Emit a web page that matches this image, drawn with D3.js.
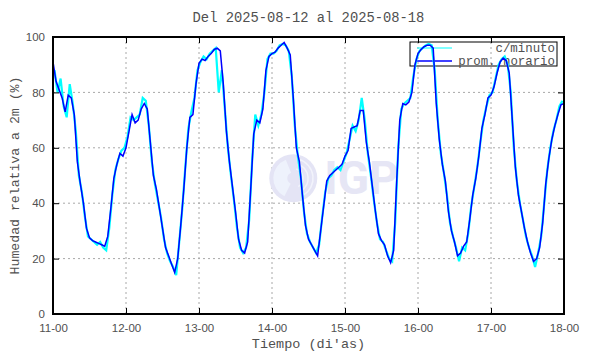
<!DOCTYPE html>
<html lang="es">
<head>
  <meta charset="UTF-8">
  <title>Humedad relativa a 2m</title>
  <style>
    * { margin: 0; padding: 0; }
    body { background: #fff; }
    svg { display: block; font-family: "Liberation Mono", "DejaVu Sans Mono", monospace; }
    text { fill: #505050; }
    .grid line { stroke: #a8a8a8; stroke-dasharray: 2, 3; }
    .axis line { stroke: #000; }
    .axis path { display: none; }
  </style>
</head>
<body>
  <svg id="svg"></svg>
  <script src="https://cdnjs.cloudflare.com/ajax/libs/d3/7.8.5/d3.min.js"></script>
  <script>
    const titulo = 'Del 2025-08-12 al 2025-08-18'
    const dias = ['11-00', '12-00', '13-00', '14-00', '15-00', '16-00', '17-00', '18-00']
    const yTicks = [0, 20, 40, 60, 80, 100]
    const series = ['c/minuto', 'prom. horario']

    // promedio horario, una hora por valor (h = 0..168)
    const horario = [
      91, 84, 81, 78, 73, 79, 78, 72, 55, 47, 40, 31, 27.5, 26.5, 26, 25.5, 25, 24.5, 28, 38, 49, 54, 58, 57,
      60, 66, 72, 69, 70, 74, 76, 74, 62, 50, 45, 38, 31, 24, 21, 18, 15, 20, 32, 45, 60, 71, 72, 83,
      90.5, 92, 91.5, 93, 94, 95.5, 96, 95, 83, 66, 55, 46, 37, 27, 23, 22, 26, 45, 65, 70, 69, 74, 88, 93,
      94, 94.5, 96, 97, 98, 96, 93.5, 78, 60, 55, 43, 32, 27, 25, 23, 21, 30, 39, 48, 50, 51, 52, 53, 54,
      57, 59, 67, 67.5, 68, 73.5, 73.5, 62, 55, 46, 37, 29, 26.5, 25, 21, 18.5, 23, 48, 70, 76, 75.5, 76.5, 80, 90,
      94, 95.5, 96.5, 97, 97, 96, 76, 63, 54, 48, 37, 30, 26, 21, 22, 24.5, 26, 34, 43, 49, 57, 67, 72, 78,
      79, 82, 87, 91, 92.4, 91.5, 87, 70, 53, 43, 37, 31, 26, 22, 19, 20, 24, 33, 47, 56, 63, 68, 72, 75.5, 76
    ]

    // muestras por minuto (leidas a la media hora, h + 0.5)
    const minuto = [
      88, 80, 85, 75, 71, 83, 76, 66, 50, 44, 35, 28, 27, 26, 25, 26, 24, 23, 31, 43, 52, 56, 59, 60,
      64, 71, 70, 71, 72, 78, 77, 68, 55, 47, 41, 35, 27, 22, 19, 17, 14, 26, 38, 53, 67, 73, 78, 88,
      91, 93, 92, 94, 95, 96, 80, 88, 74, 60, 50, 41, 31, 24, 22, 24, 34, 56, 72, 68, 72, 80, 92, 94,
      94, 95, 97, 97.5, 97, 95, 86, 68, 57, 49, 37, 29, 26, 24, 22, 25, 35, 44, 49, 50, 52, 53, 52, 55,
      58, 63, 68, 66, 70, 78, 70, 58, 50, 41, 33, 27, 26, 23, 20, 19, 33, 60, 74, 76, 77, 78, 86, 92,
      95, 96, 97, 97.5, 97, 88, 70, 58, 51, 43, 33, 28, 24, 19, 24, 23, 29, 39, 46, 53, 62, 70, 75, 79,
      80, 85, 90, 92, 93, 90, 80, 60, 48, 40, 34, 28, 24, 21, 17, 22, 28, 40, 52, 60, 66, 70, 75, 77
    ]

    const dimension = {
      width: 590,
      height: 354,
      margin: { top: 37, right: 26, bottom: 40, left: 53 }
    }
    const m = dimension.margin
    const W = dimension.width - m.left - m.right
    const H = dimension.height - m.top - m.bottom

    const svg = d3.select('#svg')
      .attr('width', dimension.width)
      .attr('height', dimension.height)

    const x = d3.scaleLinear().domain([0, 168]).range([0, W])
    const y = d3.scaleLinear().domain([0, 100]).range([H, 0])
    const diaHoras = dias.map((d, i) => i * 24)

    const g = svg.append('g').attr('transform', `translate(${m.left},${m.top})`)

    svg.append('defs').append('clipPath').attr('id', 'clip')
      .append('rect').attr('width', W).attr('height', H)

    // grilla punteada
    const grid = g.append('g').attr('class', 'grid')
    grid.selectAll('.gx').data(diaHoras.slice(1, -1)).join('line')
      .attr('x1', d => x(d)).attr('x2', d => x(d)).attr('y1', 0).attr('y2', H)
    grid.selectAll('.gy').data(yTicks.slice(1, -1)).join('line')
      .attr('x1', 0).attr('x2', W).attr('y1', d => y(d)).attr('y2', d => y(d))

    // marca de agua IGP
    const wm = g.append('g').attr('transform', `translate(${x(79)},${y(49)})`)
    wm.append('circle').attr('r', 24).attr('fill', '#e4e4f5')
    wm.append('path').attr('d', d3.arc()({ innerRadius: 6, outerRadius: 20, startAngle: 3.6, endAngle: 5.9 }))
      .attr('fill', '#eef2fc')
    ;[9, 14, 19].forEach(r => {
      wm.append('path').attr('d', d3.arc()({ innerRadius: r, outerRadius: r + 1.5, startAngle: 0.3, endAngle: 2.6 }))
        .attr('fill', '#f2f3fb')
    })
    wm.append('text').attr('x', 31).attr('y', 16)
      .style('font-family', 'Roboto, "Liberation Sans", sans-serif')
      .style('font-weight', 'bold').style('font-size', '46px')
      .style('fill', '#e6e6f5').text('IGP')

    // leyenda
    const leg = g.append('g').attr('transform', `translate(${410 - m.left},${42 - m.top})`)
    leg.append('rect').attr('width', 147).attr('height', 24)
      .attr('fill', 'none').attr('stroke', '#000').attr('stroke-width', 1)
    const colores = ['#00ffff', '#0000ff']
    series.forEach((s, i) => {
      leg.append('line').attr('x1', 7).attr('x2', 42).attr('y1', 6 + i * 13).attr('y2', 6 + i * 13)
        .attr('stroke', colores[i]).attr('stroke-width', i ? 1.5 : 1)
      leg.append('text').attr('x', 145).attr('y', 10 + i * 13).attr('text-anchor', 'end')
        .style('font-size', '12.4px').text(s)
    })

    // curvas
    const datos = g.append('g').attr('clip-path', 'url(#clip)')
    const linea = d3.line().x(d => x(d[0])).y(d => y(d[1]))
    datos.append('path')
      .datum(minuto.map((v, i) => [i + 0.5, v]))
      .attr('fill', 'none').attr('stroke', '#00ffff').attr('stroke-width', 2.2)
      .attr('d', linea)
    datos.append('path')
      .datum(horario.map((v, i) => [i, v]))
      .attr('fill', 'none').attr('stroke', '#0000ff').attr('stroke-width', 1.5)
      .attr('d', linea)

    // marco y ejes
    g.append('rect').attr('width', W).attr('height', H)
      .attr('fill', 'none').attr('stroke', '#000').attr('stroke-width', 2)

    g.append('g').attr('class', 'axis').attr('transform', `translate(0,${H})`)
      .call(d3.axisBottom(x).tickValues(diaHoras).tickFormat((d, i) => dias[i])
        .tickSizeInner(-6).tickSizeOuter(0).tickPadding(10))
      .selectAll('text').style('font-size', '11.5px').style('fill', '#505050')
    g.append('g').attr('class', 'axis')
      .call(d3.axisTop(x).tickValues(diaHoras).tickFormat('').tickSizeInner(-6).tickSizeOuter(0))
    g.append('g').attr('class', 'axis')
      .call(d3.axisLeft(y).tickValues(yTicks).tickSizeInner(-6).tickSizeOuter(0).tickPadding(8))
      .selectAll('text').style('font-size', '11.5px').style('fill', '#505050')
    g.append('g').attr('class', 'axis').attr('transform', `translate(${W},0)`)
      .call(d3.axisRight(y).tickValues(yTicks).tickFormat('').tickSizeInner(-6).tickSizeOuter(0))

    // textos
    svg.append('text').attr('x', m.left + W / 2).attr('y', 22).attr('text-anchor', 'middle')
      .style('font-size', '13.8px').text(titulo)
    svg.append('text').attr('x', m.left + W / 2).attr('y', 348).attr('text-anchor', 'middle')
      .style('font-size', '13.5px').text("Tiempo (di'as)")
    svg.append('text').attr('transform', `translate(15,${m.top + H / 2}) rotate(-90)`)
      .attr('text-anchor', 'middle').attr('dominant-baseline', 'central')
      .style('font-size', '13.2px').text('Humedad relativa a 2m (%)')
  </script>
</body>
</html>
